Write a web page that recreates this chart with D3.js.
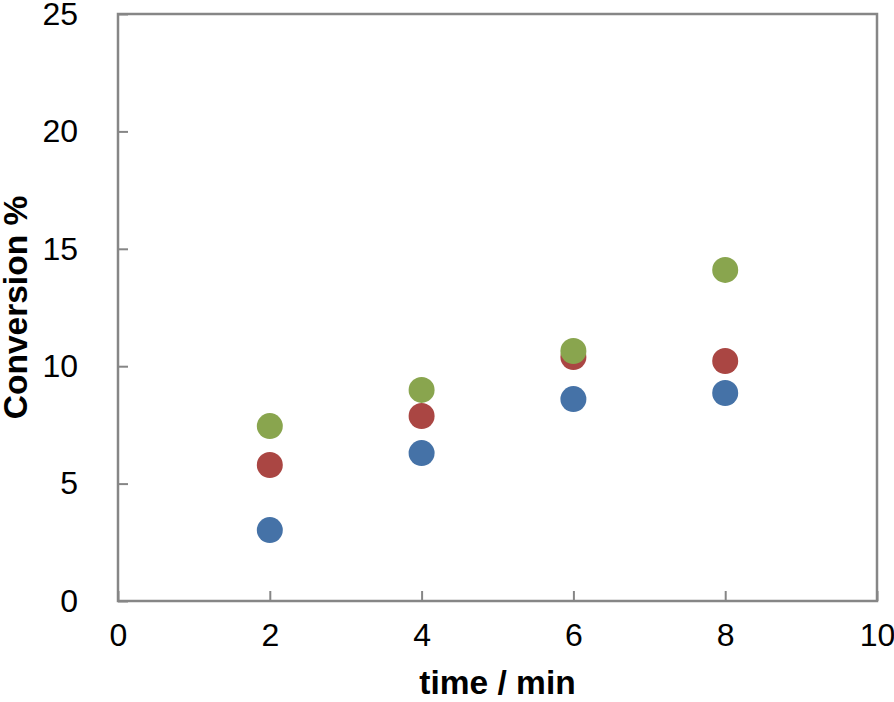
<!DOCTYPE html>
<html>
<head>
<meta charset="utf-8">
<script src="https://cdn.jsdelivr.net/npm/d3@7"></script>
<style>
  body { margin: 0; background: #fff; }
  text { font-family: "Liberation Sans", Arial, sans-serif; fill: #000; }
</style>
</head>
<body>
<svg id="chart" width="894" height="702"></svg>
<script>
const times = [2, 4, 6, 8];
const seriesBlue = [3.02, 6.3, 8.6, 8.86];
const seriesRed = [5.79, 7.88, 10.39, 10.22];
const seriesGreen = [7.45, 8.99, 10.65, 14.1];
const xTicks = [0, 2, 4, 6, 8, 10];
const yTicks = [0, 5, 10, 15, 20, 25];

const series = [
    { values: seriesBlue, color: '#4572A7' },
    { values: seriesRed, color: '#AA4643' },
    { values: seriesGreen, color: '#89A54E' }
];

const margin = { left: 118, right: 17, top: 14, bottom: 101 };
const width = 894, height = 702;
const svg = d3.select('#chart');

const x = d3.scaleLinear().domain([0, 10]).range([margin.left, width - margin.right]);
const y = d3.scaleLinear().domain([0, 25]).range([height - margin.bottom, margin.top]);

const axisColor = '#868686';

// frame
svg.append('rect')
    .attr('x', margin.left)
    .attr('y', margin.top)
    .attr('width', x(10) - x(0))
    .attr('height', y(0) - y(25))
    .attr('fill', 'none')
    .attr('stroke', axisColor)
    .attr('stroke-width', 2.5);

// x axis, ticks inward
const xAxis = svg.append('g')
    .attr('transform', `translate(0,${y(0)})`)
    .call(d3.axisBottom(x).tickValues(xTicks).tickSizeInner(-10).tickSizeOuter(0).tickPadding(22));
xAxis.select('.domain').remove();
xAxis.selectAll('line').attr('stroke', axisColor).attr('stroke-width', 2);
xAxis.selectAll('text').attr('font-size', 32).attr('fill', '#000')
    .attr('font-family', '"Liberation Sans", Arial, sans-serif');

// y axis, ticks inward
const yAxis = svg.append('g')
    .attr('transform', `translate(${x(0)},0)`)
    .call(d3.axisLeft(y).tickValues(yTicks).tickSizeInner(-10).tickSizeOuter(0).tickPadding(40));
yAxis.select('.domain').remove();
yAxis.selectAll('line').attr('stroke', axisColor).attr('stroke-width', 2);
yAxis.selectAll('text').attr('font-size', 32).attr('fill', '#000')
    .attr('font-family', '"Liberation Sans", Arial, sans-serif');

// points
series.forEach(s => {
    svg.append('g')
        .selectAll('circle')
        .data(s.values)
        .join('circle')
        .attr('cx', (d, i) => x(times[i]))
        .attr('cy', d => y(d))
        .attr('r', 13)
        .attr('fill', s.color);
});

// axis titles
svg.append('text')
    .attr('x', (x(0) + x(10)) / 2)
    .attr('y', 694)
    .attr('text-anchor', 'middle')
    .attr('font-size', 33.5)
    .attr('font-weight', 'bold')
    .text('time / min');

svg.append('text')
    .attr('transform', `translate(27,${(y(0) + y(25)) / 2}) rotate(-90)`)
    .attr('text-anchor', 'middle')
    .attr('font-size', 33.5)
    .attr('font-weight', 'bold')
    .text('Conversion %');
</script>
</body>
</html>
